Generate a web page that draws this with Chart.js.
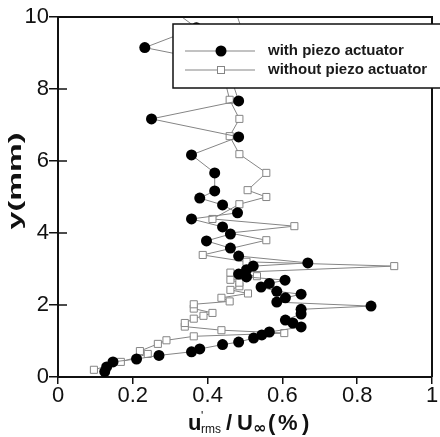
<!DOCTYPE html>
<html>
<head>
<meta charset="utf-8">
<script src="https://cdn.jsdelivr.net/npm/chart.js@4"></script>
<style>
  html, body { margin: 0; padding: 0; background: #fff; }
  #wrap { width: 440px; height: 437px; }
</style>
</head>
<body>
<div id="wrap"><canvas id="myChart" width="440" height="437"></canvas></div>
<script>
const ctx = document.getElementById("myChart").getContext("2d");

// with piezo actuator (filled dots), ordered by y
const yWith = [0.15, 0.28, 0.42, 0.5, 0.6, 0.7, 0.78, 0.9, 0.97, 1.08, 1.17, 1.25, 1.39, 1.5, 1.58, 1.75, 1.88, 1.97, 2.08, 2.2,
  2.3, 2.38, 2.5, 2.6, 2.69, 2.78, 2.86, 2.98, 3.08, 3.17, 3.36, 3.58, 3.78, 3.97, 4.17, 4.39, 4.56, 4.78, 4.97, 5.17,
  5.67, 6.17, 6.67, 7.17, 7.67, 8.7, 9.15, 9.7, 10.4];
const uWith = [0.125, 0.13, 0.147, 0.21, 0.27, 0.357, 0.379, 0.44, 0.483, 0.523, 0.545, 0.565, 0.65, 0.628, 0.608, 0.65, 0.65, 0.837, 0.585, 0.608,
  0.65, 0.585, 0.543, 0.565, 0.607, 0.504, 0.483, 0.504, 0.522, 0.668, 0.483, 0.461, 0.397, 0.461, 0.44, 0.357, 0.48, 0.44, 0.379, 0.419,
  0.419, 0.357, 0.483, 0.25, 0.483, 0.45, 0.232, 0.37, 0.28];

// without piezo actuator (open squares), ordered by y
const yWithout = [0.2, 0.42, 0.64, 0.72, 0.92, 1.02, 1.13, 1.22, 1.3, 1.4, 1.5, 1.62, 1.7, 1.78, 1.9, 2.02, 2.1, 2.2, 2.32, 2.42,
  2.52, 2.62, 2.7, 2.8, 2.9, 3.08, 3.2, 3.39, 3.8, 4.0, 4.19, 4.39, 4.8, 5.0, 5.19, 5.67, 6.19, 6.69, 7.17, 7.7,
  8.5, 9.4, 10.3];
const uWithout = [0.096, 0.168, 0.24, 0.219, 0.267, 0.29, 0.363, 0.605, 0.437, 0.339, 0.339, 0.363, 0.389, 0.413, 0.363, 0.363, 0.459, 0.437, 0.508, 0.461,
  0.485, 0.485, 0.461, 0.532, 0.461, 0.899, 0.504, 0.387, 0.557, 0.459, 0.632, 0.413, 0.485, 0.557, 0.507, 0.557, 0.485, 0.459, 0.485, 0.459,
  0.44, 0.5, 0.47];

const seriesNames = ["with piezo actuator", "without piezo actuator"];
const xTicks = [0, 0.2, 0.4, 0.6, 0.8, 1];
const xTickLabels = ["0", "0.2", "0.4", "0.6", "0.8", "1"];
const yTicks = [0, 2, 4, 6, 8, 10];
const yTickLabels = ["0", "2", "4", "6", "8", "10"];

const axisColor = "#111";
const lineGray = "#858585";

// legend box, y title and x title with sub/superscripts, frame and inner ticks
const extras = {
  id: "extras",
  afterDatasetsDraw(chart) {
    const c = chart.ctx;
    const a = chart.chartArea;
    const ys = chart.scales.y;
    c.save();

    c.strokeStyle = axisColor;
    c.lineWidth = 2;
    c.beginPath();
    c.moveTo(a.left, a.top);
    c.lineTo(a.right, a.top);
    c.lineTo(a.right, a.bottom);
    c.stroke();

    c.lineWidth = 1.5;
    yTicks.forEach((v) => {
      const p = ys.getPixelForValue(v);
      c.beginPath();
      c.moveTo(a.left, p);
      c.lineTo(a.left + 9, p);
      c.stroke();
    });

    // legend
    c.fillStyle = "#fff";
    c.fillRect(173, 24, 280, 64);
    c.lineWidth = 1.5;
    c.strokeStyle = axisColor;
    c.strokeRect(173, 24, 280, 64);
    const rows = [51, 70];
    rows.forEach((ry, i) => {
      c.strokeStyle = lineGray;
      c.lineWidth = 1;
      c.beginPath();
      c.moveTo(185, ry);
      c.lineTo(255, ry);
      c.stroke();
      if (i === 0) {
        c.fillStyle = "#000";
        c.beginPath();
        c.arc(221, ry, 5.5, 0, Math.PI * 2);
        c.fill();
      } else {
        c.fillStyle = "#fff";
        c.fillRect(217.5, ry - 3.5, 7, 7);
        c.strokeStyle = lineGray;
        c.strokeRect(217.5, ry - 3.5, 7, 7);
      }
      c.fillStyle = "#1a1a1a";
      c.font = "bold 15px 'Liberation Sans', Arial, sans-serif";
      c.textAlign = "left";
      c.textBaseline = "middle";
      c.fillText(seriesNames[i], 268, ry);
    });

    // y title, stretched along its length as in the figure
    c.save();
    c.translate(16, 181);
    c.rotate(-Math.PI / 2);
    c.scale(1.7, 1);
    c.fillStyle = "#111";
    c.font = "bold 19px 'Liberation Sans', Arial, sans-serif";
    c.textAlign = "center";
    c.textBaseline = "middle";
    c.fillText("y(mm)", 0, 0);
    c.restore();

    // x title: u'_rms / U_inf (%)
    c.fillStyle = "#111";
    c.textAlign = "left";
    c.textBaseline = "alphabetic";
    const big = "bold 22px 'Liberation Sans', Arial, sans-serif";
    const small = "12px 'Liberation Sans', Arial, sans-serif";
    const base = 430;
    c.font = big; c.fillText("u", 188, base);
    c.font = small; c.fillText("'", 201, base - 10);
    c.font = small; c.fillText("rms", 201, base + 3);
    c.font = "bold 22px 'Liberation Sans', Arial, sans-serif"; c.fillText("/", 226, base);
    c.font = big; c.fillText("U", 237, base);
    c.font = "bold 16px 'DejaVu Sans', sans-serif"; c.fillText("\u221E", 253, base + 3);
    c.font = big;
    c.fillText("(", 268, base);
    c.fillText("%", 278, base);
    c.fillText(")", 302, base);

    c.restore();
  }
};

function seriesPoints(xs, ys) {
  return xs.map((x, i) => ({ x: x, y: ys[i] }));
}

const myChart = new Chart(ctx, {
  type: "scatter",
  data: {
    datasets: [
      {
        label: seriesNames[0],
        data: seriesPoints(uWith, yWith),
        showLine: true,
        borderColor: lineGray,
        borderWidth: 1,
        pointStyle: "circle",
        pointRadius: 5.5,
        pointBackgroundColor: "#000",
        pointBorderColor: "#000",
        pointBorderWidth: 0,
      },
      {
        label: seriesNames[1],
        data: seriesPoints(uWithout, yWithout),
        showLine: true,
        borderColor: lineGray,
        borderWidth: 1,
        pointStyle: "rect",
        pointRadius: 5,
        pointBackgroundColor: "#fff",
        pointBorderColor: lineGray,
        pointBorderWidth: 1,
      },
    ],
  },
  options: {
    responsive: false,
    animation: false,
    devicePixelRatio: 1,
    layout: { padding: { top: 17, right: 8, left: 0, bottom: 0 } },
    plugins: {
      legend: { display: false },
      tooltip: { enabled: false },
    },
    scales: {
      x: {
        type: "linear",
        min: 0,
        max: 1,
        afterBuildTicks: (s) => { s.ticks = xTicks.map((v) => ({ value: v })); },
        afterFit: (s) => { s.height = 60; },
        ticks: {
          callback: (v, i) => xTickLabels[i],
          color: "#111",
          font: { family: "'Liberation Sans', Arial, sans-serif", size: 22 },
          padding: -1,
          maxRotation: 0,
        },
        grid: { drawOnChartArea: false, drawTicks: true, tickLength: 7, color: axisColor, lineWidth: 1.5 },
        border: { display: true, color: axisColor, width: 2 },
      },
      y: {
        type: "linear",
        min: 0,
        max: 10,
        afterBuildTicks: (s) => { s.ticks = yTicks.map((v) => ({ value: v })); },
        afterFit: (s) => { s.width = 58; },
        ticks: {
          callback: (v, i) => yTickLabels[i],
          color: "#111",
          font: { family: "'Liberation Sans', Arial, sans-serif", size: 22 },
          padding: 0,
        },
        grid: { drawOnChartArea: false, drawTicks: true, tickLength: 9, color: axisColor, lineWidth: 1.5 },
        border: { display: true, color: axisColor, width: 2 },
      },
    },
  },
  plugins: [extras],
});
</script>
</body>
</html>
